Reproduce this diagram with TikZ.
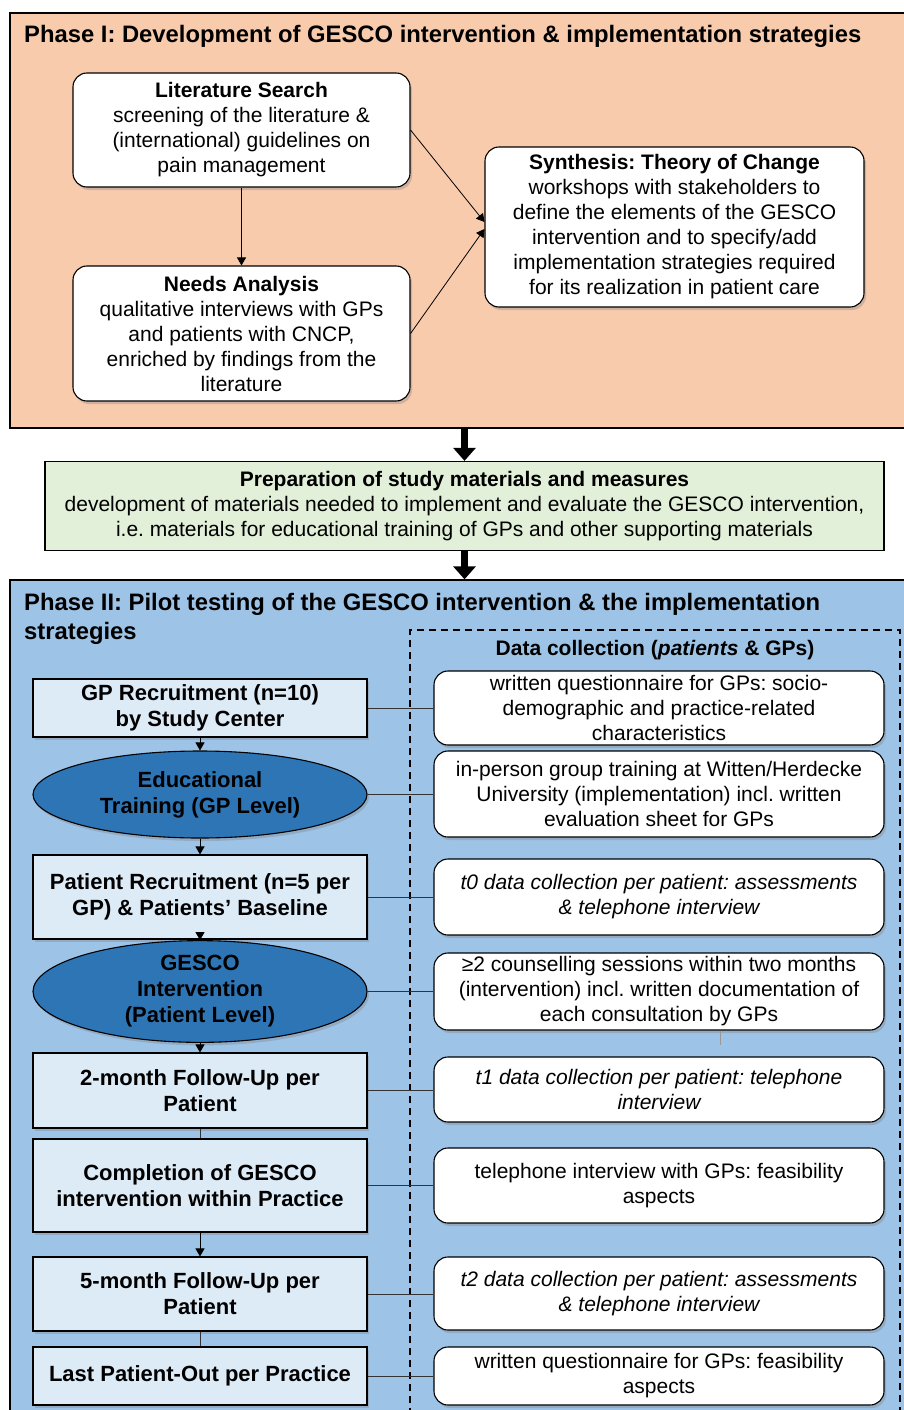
\documentclass[tikz,border=0pt]{standalone}
\usepackage{fontspec}
\setmainfont{Liberation Sans}
\usepackage{tikz}
\usetikzlibrary{shapes.geometric, arrows.meta, positioning, calc, shadows}
\definecolor{peach}{HTML}{F8CBAD}
\definecolor{sage}{HTML}{E2EFD9}
\definecolor{skyblue}{HTML}{9DC3E6}
\definecolor{paleblue}{HTML}{DDEBF7}
\definecolor{deepblue}{HTML}{2E75B6}
\newcommand{\boldtext}{\fontsize{22}{26}\selectfont\bfseries}
\frenchspacing

\tikzset{
  phasebox/.style={draw, line width=1.3pt, inner sep=0pt},
  roundbox/.style={draw, line width=1.1pt, fill=white, rounded corners=14pt, align=center,
    inner sep=0pt, drop shadow={shadow xshift=2pt, shadow yshift=-3pt, opacity=0.35}},
  stepbox/.style={draw, line width=1.1pt, fill=paleblue, align=center, inner sep=0pt,
    minimum width=334pt, font=\boldtext,
    drop shadow={shadow xshift=2pt, shadow yshift=-3pt, opacity=0.35}},
  ovalbox/.style={ellipse, draw, line width=1.1pt, fill=deepblue, align=center, inner sep=0pt,
    minimum width=334pt, font=\boldtext,
    drop shadow={shadow xshift=2pt, shadow yshift=-3pt, opacity=0.35}},
  databox/.style={roundbox, minimum width=450pt},
  link/.style={draw, line width=0.7pt, black!80},
  flow/.style={-{Triangle[width=9pt,length=8pt]}, line width=0.8pt},
  bigflow/.style={-{Triangle[width=22pt,length=13pt]}, line width=7pt}
}

\begin{document}
\begin{tikzpicture}[x=1pt, y=-1pt, font=\fontsize{21}{25}\selectfont]
\useasboundingbox (0,0) rectangle (903,1410);

% Phase I
\node[phasebox, fill=peach, minimum width=910pt, minimum height=415pt] (phase1) at (465,220.5) {};
\node[anchor=west, inner sep=0pt, font=\fontsize{23.8}{29}\selectfont\bfseries] (title1) at (24,36)
  {Phase I: Development of GESCO intervention \& implementation strategies};
\node[roundbox, minimum width=337pt, minimum height=114pt] (lit) at (241.5,130)
  {\textbf{Literature Search}\\screening of the literature \&\\(international) guidelines on\\pain management};
\node[roundbox, minimum width=337pt, minimum height=135pt] (needs) at (241.5,333.5)
  {\textbf{Needs Analysis}\\qualitative interviews with GPs\\and patients with CNCP,\\enriched by findings from the\\literature};
\node[roundbox, minimum width=379pt, minimum height=160pt] (syn) at (674.5,227)
  {\textbf{Synthesis: Theory of Change}\\workshops with stakeholders to\\define the elements of the GESCO\\intervention and to specify/add\\implementation strategies required\\for its realization in patient care};
\draw[flow] (lit) -- (needs);
\draw[flow] (lit.east) -- ([yshift=5pt]syn.west);
\draw[flow] (needs.east) -- ([yshift=-2pt]syn.west);

% Preparation
\node[draw, line width=1.3pt, fill=sage, align=center, inner sep=0pt,
  minimum width=839pt, minimum height=89pt] (prep) at (464.5,506)
  {\textbf{Preparation of study materials and measures}\\development of materials needed to implement and evaluate the GESCO intervention,\\i.e. materials for educational training of GPs and other supporting materials};

% Phase II
\node[phasebox, fill=skyblue, minimum width=910pt, minimum height=860pt] (phase2) at (465,1010) {};
\draw[bigflow] (prep.north |- phase1.south) -- (prep.north);
\draw[bigflow] (prep.south) -- (prep.south |- phase2.north);
\node[anchor=north west, inner sep=0pt, align=left, font=\fontsize{23.8}{29}\selectfont\bfseries] (title2) at (24,593)
  {Phase II: Pilot testing of the GESCO intervention \& the implementation\\strategies};
\node[draw, dashed, dash pattern=on 7pt off 5pt, line width=1.3pt,
  minimum width=490pt, minimum height=810pt] (frame) at (655,1035) {};
\node[font=\fontsize{21}{25}\selectfont\bfseries] (datatitle) at (655,650)
  {Data collection (\textit{patients} \& GPs)};

% left column
\node[stepbox, minimum height=58pt] (gp) at (200,708) {GP Recruitment (n=10)\\by Study Center};
\node[ovalbox, minimum height=87pt] (edu) at (200,794.5) {Educational\\Training (GP Level)};
\node[stepbox, minimum height=84pt] (pat) at (200,897) {Patient Recruitment (n=5 per\\GP) \& Patients’ Baseline};
\node[ovalbox, minimum height=89pt] (ges) at (200,991.5) {GESCO\\Intervention\\(Patient Level)};
\node[stepbox, minimum height=75pt] (fu2) at (200,1090.5) {2-month Follow-Up per\\Patient};
\node[stepbox, minimum height=93pt] (comp) at (200,1185.5) {Completion of GESCO\\intervention within Practice};
\node[stepbox, minimum height=74pt] (fu5) at (200,1294) {5-month Follow-Up per\\Patient};
\node[stepbox, minimum height=58pt] (last) at (200,1376) {Last Patient-Out per Practice};

% right column
\node[databox, minimum height=74pt] (r1) at (659,708)
  {written questionnaire for GPs: socio-\\demographic and practice-related\\characteristics};
\node[databox, minimum height=86pt] (r2) at (659,794)
  {in-person group training at Witten/Herdecke\\University (implementation) incl. written\\evaluation sheet for GPs};
\node[databox, minimum height=76pt, font=\fontsize{21}{25}\selectfont\itshape] (r3) at (659,897)
  {t0 data collection per patient: assessments\\\& telephone interview};
\node[databox, minimum height=77pt] (r4) at (659,991.5)
  {≥2 counselling sessions within two months\\(intervention) incl. written documentation of\\each consultation by GPs};
\node[databox, minimum height=65pt, font=\fontsize{21}{25}\selectfont\itshape] (r5) at (659,1089.5)
  {t1 data collection per patient: telephone\\interview};
\node[databox, minimum height=75pt] (r6) at (659,1185.5)
  {telephone interview with GPs: feasibility\\aspects};
\node[databox, minimum height=73pt, font=\fontsize{21}{25}\selectfont\itshape] (r7) at (659,1293.5)
  {t2 data collection per patient: assessments\\\& telephone interview};
\node[databox, minimum height=58pt] (r8) at (659,1376)
  {written questionnaire for GPs: feasibility\\aspects};

\foreach \from/\to in {gp/edu,edu/pat,pat/ges,ges/fu2,comp/fu5}
  \draw[flow] (\from) -- (\to);
\foreach \from/\to in {fu2/comp,fu5/last}
  \draw[link] (\from) -- (\to);
\foreach \from/\to in {gp/r1,edu/r2,pat/r3,ges/r4,fu2/r5,comp/r6,fu5/r7,last/r8}
  \draw[link] (\from.east) -- (\from.east -| \to.west);
\coordinate (tick) at ([xshift=61pt, yshift=-14pt]r4.south);
\draw[black!40, line width=0.6pt] ([xshift=61pt]r4.south) -- (tick);
\end{tikzpicture}
\end{document}
